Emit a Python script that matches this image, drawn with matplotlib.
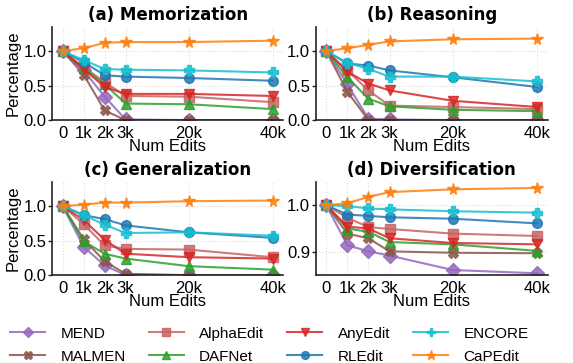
import matplotlib
matplotlib.use("Agg")
import matplotlib.pyplot as plt

# DATA

x_labels = ["0", "1k", "2k", "3k", "20k", "40k"]
x_pos = [0, 1, 2, 3, 6, 10]

methods = ["MEND", "MALMEN", "AlphaEdit", "DAFNet", "AnyEdit", "RLEdit", "ENCORE", "CaPEdit"]
colors = ["#9467bd", "#8c564b", "#c86464", "#2ca02c", "#d62728", "#1f77b4", "#17becf", "#ff7f0e"]
markers = ["D", "X", "s", "^", "v", "o", "P", "*"]

titles = ["(a) Memorization", "(b) Reasoning", "(c) Generalization", "(d) Diversification"]

memorization = {
    "MEND":      [1.0, 0.72, 0.34, 0.01, 0.0, 0.0],
    "MALMEN":    [1.0, 0.66, 0.14, 0.0, 0.0, 0.0],
    "AlphaEdit": [1.0, 0.77, 0.55, 0.35, 0.34, 0.26],
    "DAFNet":    [1.0, 0.75, 0.52, 0.24, 0.23, 0.16],
    "AnyEdit":   [1.0, 0.74, 0.48, 0.38, 0.38, 0.35],
    "RLEdit":    [1.0, 0.84, 0.65, 0.63, 0.61, 0.57],
    "ENCORE":    [1.0, 0.87, 0.74, 0.73, 0.72, 0.69],
    "CaPEdit":   [1.0, 1.04, 1.12, 1.13, 1.13, 1.15],
}
reasoning = {
    "MEND":      [1.0, 0.52, 0.02, 0.01, 0.0, 0.0],
    "MALMEN":    [1.0, 0.41, 0.0, 0.0, 0.0, 0.0],
    "AlphaEdit": [1.0, 0.72, 0.43, 0.21, 0.19, 0.16],
    "DAFNet":    [1.0, 0.62, 0.31, 0.20, 0.15, 0.13],
    "AnyEdit":   [1.0, 0.70, 0.53, 0.43, 0.28, 0.19],
    "RLEdit":    [1.0, 0.82, 0.79, 0.72, 0.62, 0.48],
    "ENCORE":    [1.0, 0.83, 0.74, 0.63, 0.63, 0.56],
    "CaPEdit":   [1.0, 1.04, 1.09, 1.14, 1.17, 1.18],
}
generalization = {
    "MEND":      [1.0, 0.41, 0.14, 0.0, 0.0, 0.0],
    "MALMEN":    [1.0, 0.52, 0.20, 0.02, 0.0, 0.0],
    "AlphaEdit": [1.0, 0.74, 0.43, 0.38, 0.37, 0.26],
    "DAFNet":    [1.0, 0.49, 0.31, 0.24, 0.13, 0.08],
    "AnyEdit":   [1.0, 0.80, 0.51, 0.31, 0.26, 0.24],
    "RLEdit":    [1.0, 0.87, 0.81, 0.72, 0.62, 0.54],
    "ENCORE":    [1.0, 0.87, 0.73, 0.61, 0.62, 0.57],
    "CaPEdit":   [1.0, 1.02, 1.05, 1.05, 1.07, 1.08],
}
diversification = {
    "MEND":      [1.0, 0.914, 0.901, 0.892, 0.861, 0.854],
    "MALMEN":    [1.0, 0.939, 0.929, 0.901, 0.898, 0.897],
    "AlphaEdit": [1.0, 0.973, 0.953, 0.949, 0.939, 0.934],
    "DAFNet":    [1.0, 0.950, 0.943, 0.921, 0.916, 0.902],
    "AnyEdit":   [1.0, 0.954, 0.950, 0.929, 0.919, 0.916],
    "RLEdit":    [1.0, 0.980, 0.977, 0.974, 0.971, 0.961],
    "ENCORE":    [1.0, 0.998, 0.993, 0.991, 0.987, 0.984],
    "CaPEdit":   [1.0, 1.004, 1.018, 1.028, 1.034, 1.037],
}

panels = [memorization, reasoning, generalization, diversification]
ylims = [(0, 1.35), (0, 1.35), (0, 1.35), (0.85, 1.05)]
yticks = [[0.0, 0.5, 1.0], [0.0, 0.5, 1.0], [0.0, 0.5, 1.0], [0.9, 1.0]]

# PLOT

plt.rcParams['font.family'] = ['Liberation Sans', 'DejaVu Sans']
plt.rcParams['font.size'] = 12

fig = plt.figure(figsize=(5.73, 3.63), dpi=100)

boxes = [
    [0.091, 0.669, 0.403, 0.257],
    [0.551, 0.669, 0.405, 0.257],
    [0.091, 0.242, 0.403, 0.257],
    [0.551, 0.242, 0.405, 0.257],
]

handles = []
for i, data in enumerate(panels):
    ax = fig.add_axes(boxes[i])
    for m, c, mk in zip(methods, colors, markers):
        ms = 8.5 if mk == "*" else 7
        h, = ax.plot(x_pos, data[m], color=c, marker=mk, markersize=ms,
                     linewidth=1.5, alpha=0.85, label=m)
        if i == 0:
            handles.append(h)
    ax.set_xlim(-0.5, 10.5)
    ax.set_ylim(*ylims[i])
    ax.set_xticks(x_pos)
    ax.set_xticklabels(x_labels)
    ax.set_yticks(yticks[i])
    ax.tick_params(axis='x', length=0, pad=4)
    ax.tick_params(axis='y', length=3, width=1, pad=1, color='#222222')
    ax.grid(True, linestyle=':', color='#dddddd', linewidth=0.8)
    for s in ['top', 'right']:
        ax.spines[s].set_visible(False)
    for s in ['left', 'bottom']:
        ax.spines[s].set_linewidth(1.2)
        ax.spines[s].set_color('#222222')
    ax.set_title(titles[i], fontfamily='DejaVu Sans', fontweight='bold', fontsize=12, pad=5)
    ax.set_xlabel('Num Edits', labelpad=-1)
    if i % 2 == 0:
        ax.set_ylabel('Percentage', labelpad=2)

fig.legend(handles=handles, loc='lower center', bbox_to_anchor=(0.47, -0.04), ncol=4,
           frameon=False, fontsize=11, handlelength=2.3, handletextpad=1.0,
           columnspacing=1.5, labelspacing=0.6, markerscale=0.8)

plt.savefig('out.png', dpi=100)
